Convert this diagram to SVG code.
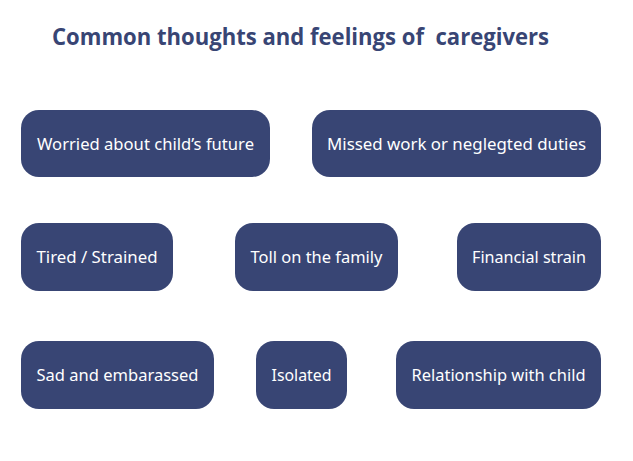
<svg xmlns="http://www.w3.org/2000/svg" width="633" height="461" viewBox="0 0 633 461">
<style>
.box{fill:#384574}
.lbl{font-family:"Noto Sans","Open Sans",sans-serif;font-size:16.5px;fill:#ffffff;text-anchor:middle;dominant-baseline:central}
.title{font-family:"Open Sans","Noto Sans",sans-serif;font-size:23px;font-weight:700;fill:#384574;white-space:pre}
</style>
<rect width="633" height="461" fill="#ffffff"/>
<text class="title" x="52" y="45" textLength="497" lengthAdjust="spacingAndGlyphs" xml:space="preserve">Common thoughts and feelings of  caregivers</text>
<g id="connectors"/>
<g id="n1"><rect class="box" x="21" y="110" width="249" height="67" rx="18"/><text class="lbl" x="145.5" y="143" textLength="217" lengthAdjust="spacingAndGlyphs">Worried about child’s future</text></g>
<g id="n2"><rect class="box" x="312" y="110" width="289" height="67" rx="18"/><text class="lbl" x="456.5" y="143" textLength="259" lengthAdjust="spacingAndGlyphs">Missed work or neglegted duties</text></g>
<g id="n3"><rect class="box" x="21" y="223" width="152" height="68" rx="18"/><text class="lbl" x="97" y="256.5" textLength="121" lengthAdjust="spacingAndGlyphs">Tired / Strained</text></g>
<g id="n4"><rect class="box" x="235" y="223" width="163" height="68" rx="18"/><text class="lbl" x="316.5" y="256.5" textLength="132" lengthAdjust="spacingAndGlyphs">Toll on the family</text></g>
<g id="n5"><rect class="box" x="457" y="223" width="144" height="68" rx="18"/><text class="lbl" x="529" y="256.5" textLength="114" lengthAdjust="spacingAndGlyphs">Financial strain</text></g>
<g id="n6"><rect class="box" x="21" y="341" width="193" height="68" rx="18"/><text class="lbl" x="117.5" y="374.5" textLength="162" lengthAdjust="spacingAndGlyphs">Sad and embarassed</text></g>
<g id="n7"><rect class="box" x="256" y="341" width="91" height="68" rx="18"/><text class="lbl" x="301.5" y="374.5" textLength="60" lengthAdjust="spacingAndGlyphs">Isolated</text></g>
<g id="n8"><rect class="box" x="396" y="341" width="205" height="68" rx="18"/><text class="lbl" x="498.5" y="374.5" textLength="174" lengthAdjust="spacingAndGlyphs">Relationship with child</text></g>
</svg>
